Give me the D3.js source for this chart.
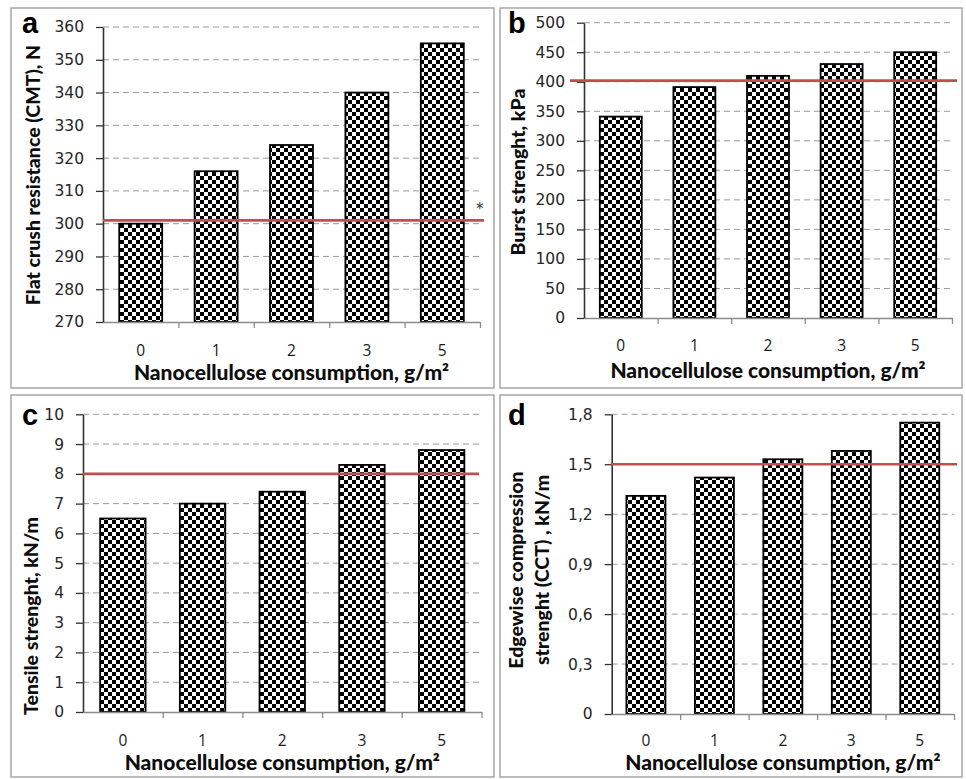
<!DOCTYPE html>
<html>
<head>
<meta charset="utf-8">
<script src="https://cdn.jsdelivr.net/npm/d3@7"></script>
<style>
  body { margin: 0; background: #fff; }
  svg { display: block; }
</style>
</head>
<body>
<div id="chart"></div>
<script>
// Data
var categories = ["0", "1", "2", "3", "5"];

var flatCrush = [300, 316, 324, 340, 355];
var burstStrength = [341, 391, 410, 430, 450];
var tensileStrength = [6.5, 7.0, 7.4, 8.3, 8.8];
var edgewiseStrength = [1.31, 1.42, 1.53, 1.58, 1.75];

var refFlatCrush = 301;
var refBurst = 402;
var refTensile = 8;
var refEdgewise = 1.5;

var ticksFlatCrush = [270, 280, 290, 300, 310, 320, 330, 340, 350, 360];
var ticksBurst = [0, 50, 100, 150, 200, 250, 300, 350, 400, 450, 500];
var ticksTensile = [0, 1, 2, 3, 4, 5, 6, 7, 8, 9, 10];
var ticksEdgewise = [0, 0.3, 0.6, 0.9, 1.2, 1.5, 1.8];

var xTitle = "Nanocellulose consumption, g/m\u00B2";

var width = 966, height = 779;

var svg = d3.select("#chart").append("svg")
    .attr("width", width)
    .attr("height", height);

// checker fill for the bars
var defs = svg.append("defs");
var pat = defs.append("pattern")
    .attr("id", "checker")
    .attr("patternUnits", "userSpaceOnUse")
    .attr("width", 8)
    .attr("height", 8);
pat.append("rect").attr("width", 8).attr("height", 8).attr("fill", "#fff");
pat.append("rect").attr("width", 4).attr("height", 4).attr("fill", "#000");
pat.append("rect").attr("x", 4).attr("y", 4).attr("width", 4).attr("height", 4).attr("fill", "#000");

var fmtComma = function(d) { return String(d).replace(".", ","); };

var panels = [
    {
        letter: "a", frame: [11, 8, 494, 388], letterPos: [22, 33],
        values: flatCrush, ref: refFlatCrush, ticks: ticksFlatCrush,
        domain: [270, 360], x0: 103, x1: 480, yTop: 27, yBottom: 322,
        refX: [103, 484], fmt: String,
        yTitle: ["Flat crush resistance (CMT), N"], yTitleX: [33], yTitleY: 175,
        tickLabelY: 356, xTitleY: 380, star: true
    },
    {
        letter: "b", frame: [500, 8, 962, 388], letterPos: [508, 33],
        values: burstStrength, ref: refBurst, ticks: ticksBurst,
        domain: [0, 500], x0: 584, x1: 952, yTop: 22.7, yBottom: 318,
        refX: [570, 957], fmt: String,
        yTitle: ["Burst strenght, kPa"], yTitleX: [518], yTitleY: 172,
        tickLabelY: 351, xTitleY: 378
    },
    {
        letter: "c", frame: [11, 395, 494, 777], letterPos: [22, 425],
        values: tensileStrength, ref: refTensile, ticks: ticksTensile,
        domain: [0, 10], x0: 83, x1: 481.5, yTop: 414.3, yBottom: 712,
        refX: [83, 479], fmt: String,
        yTitle: ["Tensile strenght, kN/m"], yTitleX: [31], yTitleY: 616,
        tickLabelY: 746, xTitleY: 770
    },
    {
        letter: "d", frame: [500, 395, 962, 777], letterPos: [508, 425],
        values: edgewiseStrength, ref: refEdgewise, ticks: ticksEdgewise,
        domain: [0, 1.8], x0: 611.7, x1: 954, yTop: 414.3, yBottom: 714,
        refX: [611, 957], fmt: fmtComma,
        yTitle: ["Edgewise compression", "strenght (CCT) , kN/m"], yTitleX: [516, 542], yTitleY: 570,
        tickLabelY: 746, xTitleY: 770
    }
];

panels.forEach(function(p) {

    var g = svg.append("g").attr("class", "panel-" + p.letter);

    // frame
    g.append("rect")
        .attr("x", p.frame[0])
        .attr("y", p.frame[1])
        .attr("width", p.frame[2] - p.frame[0])
        .attr("height", p.frame[3] - p.frame[1])
        .attr("fill", "none")
        .attr("stroke", "#a6a6a6")
        .attr("stroke-width", 1.5);

    var x = d3.scaleBand()
        .domain(categories)
        .range([p.x0, p.x1])
        .paddingInner(0.43)
        .paddingOuter(0.215);

    var y = d3.scaleLinear()
        .domain(p.domain)
        .range([p.yBottom, p.yTop]);

    // dashed gridlines
    g.selectAll(".grid")
        .data(p.ticks.slice(1))
        .enter().append("line")
        .attr("class", "grid")
        .attr("x1", p.x0)
        .attr("x2", p.x1)
        .attr("y1", function(d) { return y(d); })
        .attr("y2", function(d) { return y(d); })
        .attr("stroke", "#9a9a9a")
        .attr("stroke-width", 1)
        .attr("stroke-dasharray", "6,4");

    // bars
    g.selectAll(".bar")
        .data(p.values)
        .enter().append("rect")
        .attr("class", "bar")
        .attr("x", function(d, i) { return x(categories[i]); })
        .attr("y", function(d) { return y(d); })
        .attr("width", x.bandwidth())
        .attr("height", function(d) { return y(p.domain[0]) - y(d); })
        .attr("fill", "url(#checker)")
        .attr("stroke", "#000")
        .attr("stroke-width", 1.8);

    // x axis: tick marks between bands
    var xAxis = d3.axisBottom(d3.scaleLinear().domain([0, 5]).range([p.x0, p.x1]))
        .tickValues([1, 2, 3, 4, 5])
        .tickSize(6)
        .tickSizeOuter(0)
        .tickFormat("");
    var xg = g.append("g")
        .attr("transform", "translate(0," + p.yBottom + ")")
        .call(xAxis);
    xg.select(".domain").attr("stroke", "#8c8c8c").attr("stroke-width", 1.3);
    xg.selectAll(".tick line").attr("stroke", "#8c8c8c").attr("stroke-width", 1.3);

    g.selectAll(".xlab")
        .data(categories)
        .enter().append("text")
        .attr("class", "xlab")
        .attr("x", function(d) { return x(d) + x.bandwidth() / 2; })
        .attr("y", p.tickLabelY)
        .attr("text-anchor", "middle")
        .style("font-family", "'Open Sans', Lato, sans-serif")
        .style("font-size", "15.5px")
        .attr("fill", "#1a1a1a")
        .text(function(d) { return d; });

    // y axis
    var yAxis = d3.axisLeft(y)
        .tickValues(p.ticks)
        .tickSize(7)
        .tickSizeOuter(0)
        .tickPadding(12)
        .tickFormat(p.fmt);
    var yg = g.append("g")
        .attr("transform", "translate(" + p.x0 + ",0)")
        .call(yAxis);
    yg.attr("font-size", null).attr("font-family", null);
    yg.select(".domain").attr("stroke", "#333").attr("stroke-width", 1.6);
    yg.selectAll(".tick line").attr("stroke", "#333").attr("stroke-width", 1.3);
    yg.selectAll(".tick text")
        .style("font-family", "'DejaVu Sans', Verdana, sans-serif")
        .style("font-size", "15.5px")
        .attr("fill", "#262626");

    // reference line
    g.append("line")
        .attr("x1", p.refX[0])
        .attr("x2", p.refX[1])
        .attr("y1", y(p.ref))
        .attr("y2", y(p.ref))
        .attr("stroke", "#c0504d")
        .attr("stroke-width", 2.6);

    if (p.star) {
        g.append("text")
            .attr("x", p.x1 - 4)
            .attr("y", y(p.ref) - 6)
            .style("font-family", "'DejaVu Sans', sans-serif")
            .style("font-size", "15px")
            .attr("fill", "#333")
            .text("*");
    }

    // titles
    g.append("text")
        .attr("x", (p.x0 + p.x1) / 2)
        .attr("y", p.xTitleY)
        .attr("text-anchor", "middle")
        .style("font-family", "Lato, 'Open Sans', sans-serif")
        .style("font-weight", "900")
        .style("font-size", "21px")
        .attr("fill", "#0d0d0d")
        .text(xTitle);

    p.yTitle.forEach(function(line, i) {
        g.append("text")
            .attr("transform", "translate(" + (p.yTitleX[i] + 7) + "," + p.yTitleY + ") rotate(-90)")
            .attr("text-anchor", "middle")
            .style("font-family", "Lato, 'Open Sans', sans-serif")
            .style("font-weight", "900")
            .style("font-size", "19.5px")
            .attr("fill", "#0d0d0d")
            .text(line);
    });

    g.append("text")
        .attr("x", p.letterPos[0])
        .attr("y", p.letterPos[1])
        .style("font-family", "'Liberation Sans', Arial, sans-serif")
        .style("font-weight", "bold")
        .style("font-size", "29px")
        .attr("fill", "#000")
        .text(p.letter);
});
</script>
</body>
</html>
